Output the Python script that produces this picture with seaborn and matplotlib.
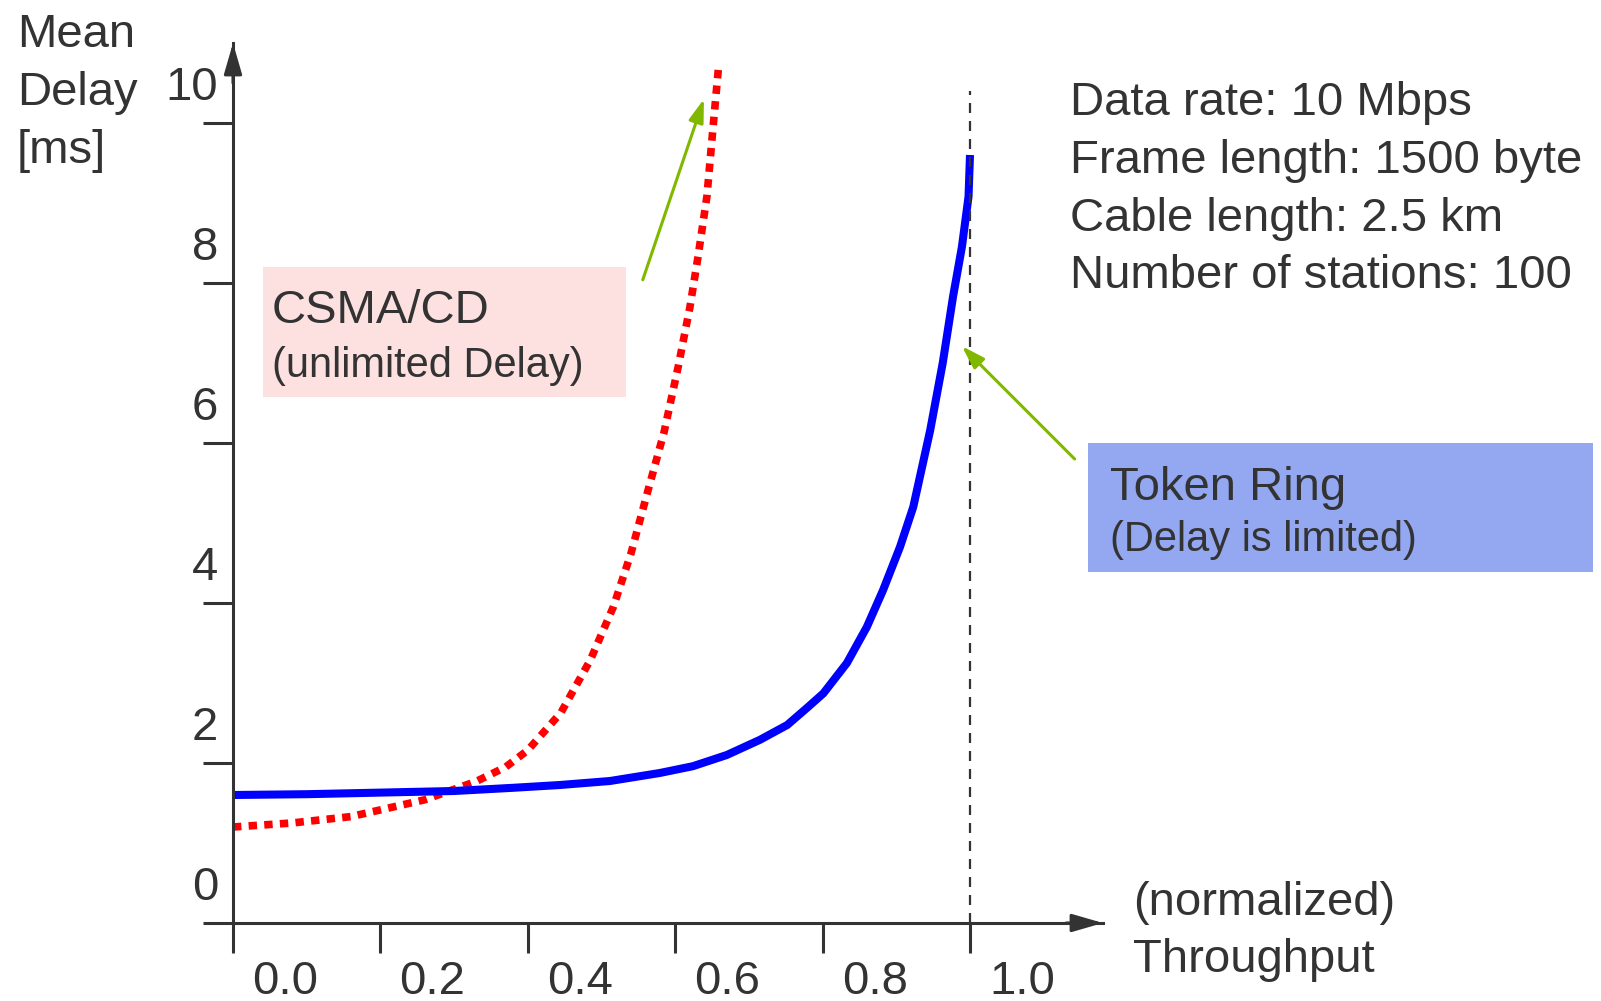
import matplotlib
matplotlib.use('Agg')
import matplotlib.pyplot as plt
from matplotlib.patches import Rectangle
from matplotlib.transforms import ScaledTranslation
import seaborn as sns

# Werte
token_x = [0.0, 0.1, 0.2, 0.3, 0.38, 0.4437, 0.5115, 0.579, 0.624, 0.670,
           0.715, 0.752, 0.779, 0.801, 0.833, 0.860, 0.882, 0.905, 0.923,
           0.946, 0.963, 0.977, 0.989, 0.998, 1.0]
token_y = [1.6, 1.61, 1.63, 1.65, 1.69, 1.725, 1.775, 1.875, 1.96, 2.1,
           2.29, 2.475, 2.69, 2.87, 3.25, 3.7, 4.16, 4.7, 5.2,
           6.16, 7.0, 7.83, 8.45, 9.08, 9.6]

csma_x = [0.0, 0.08, 0.16, 0.26, 0.33, 0.37, 0.40, 0.445, 0.485, 0.516,
          0.54, 0.562, 0.585, 0.604, 0.62, 0.631, 0.643, 0.651, 0.659]
csma_y = [1.2, 1.25, 1.33, 1.54, 1.77, 1.95, 2.16, 2.63, 3.29, 3.95,
          4.62, 5.37, 6.14, 6.95, 7.7, 8.33, 9.08, 9.91, 10.72]

x_ticks = [0.0, 0.2, 0.4, 0.6, 0.8, 1.0]
y_ticks = [0, 2, 4, 6, 8, 10]
capacity = 1.0
info_lines = ['Data rate: 10 Mbps', 'Frame length: 1500 byte',
              'Cable length: 2.5 km', 'Number of stations: 100']

sns.set_theme(style='ticks')
plt.rcParams['font.family'] = ['Liberation Sans', 'DejaVu Sans']
GREY = '#333333'
GREEN = '#80b800'

W, H = 1601, 1001
fig = plt.figure(figsize=(W / 100, H / 100), dpi=100)
# x=0 bei px 233, y=0 bei px 923; 737 px je x-Einheit, 80 px je y-Einheit
ax = fig.add_axes([233 / W, (H - 923) / H, 870 / W, 880 / H])
xmax, ymax = 870 / 737, 11.0
ax.set_xlim(0, xmax)
ax.set_ylim(0, ymax)

# Kurven
sns.lineplot(x=csma_x, y=csma_y, ax=ax, color='#ff0000', lw=5.5,
             linestyle=(0, (1.1, 0.95)), clip_on=False)
sns.lineplot(x=token_x, y=token_y, ax=ax, color='#0000ff', lw=5.8,
             solid_capstyle='butt', clip_on=False)
ax.vlines(capacity, 0, 10.4, color=GREY, lw=1.6,
          linestyles=[(0, (4.5, 3.6))], clip_on=False)

# Achsen mit Pfeilen
for s in ['top', 'right']:
    ax.spines[s].set_visible(False)
for s in ['left', 'bottom']:
    ax.spines[s].set_color(GREY)
    ax.spines[s].set_linewidth(2.2)
arrow = dict(arrowstyle='-|>,head_length=1.9,head_width=0.55', color=GREY,
             lw=2.2, shrinkA=0, shrinkB=0, mutation_scale=10)
ax.annotate('', xy=(xmax, 0), xytext=(xmax - 0.05, 0), arrowprops=arrow,
            annotation_clip=False)
ax.annotate('', xy=(0, ymax), xytext=(0, ymax - 0.5), arrowprops=arrow,
            annotation_clip=False)

ax.set_xticks(x_ticks, labels=[f'{v:.1f}' for v in x_ticks])
ax.set_yticks(y_ticks, labels=[str(v) for v in y_ticks])
ax.tick_params(direction='out', length=21.6, width=2.2, color=GREY,
               labelcolor=GREY, labelsize=34)
ax.tick_params(axis='y', pad=0)
ax.tick_params(axis='x', pad=5)
for lab in ax.get_xticklabels():
    lab.set_transform(lab.get_transform() + ScaledTranslation(0.52, 0, fig.dpi_scale_trans))
for lab in ax.get_yticklabels():
    lab.set_transform(lab.get_transform() + ScaledTranslation(0.15, 0.40, fig.dpi_scale_trans))
ax.set_xlabel('')
ax.set_ylabel('')


def px(x, y):
    return x / W, 1 - y / H


# Achsentitel
for txt, yb in zip(['Mean', 'Delay', '[ms]'], [47, 105, 163]):
    fig.text(*px(17, yb), txt, fontsize=34, color=GREY, va='baseline')
for txt, yb in zip(['(normalized)', 'Throughput'], [915, 972]):
    fig.text(*px(1133, yb), txt, fontsize=34, color=GREY, va='baseline')

# Parameter
for i, txt in enumerate(info_lines):
    fig.text(*px(1070, 115 + 57.8 * i), txt, fontsize=34, color=GREY,
             va='baseline')

# Beschriftungskästen
ax.add_patch(Rectangle((0.0407, 6.575), 0.492, 1.625, color='#fde0e0',
                       lw=0, clip_on=False, zorder=0.5))
ax.text(0.053, 7.5, 'CSMA/CD', fontsize=34, color=GREY)
ax.text(0.053, 6.825, '(unlimited Delay)', fontsize=30, color=GREY)

ax.add_patch(Rectangle((1.160, 4.39), 0.685, 1.61, color='#93a8f0',
                       lw=0, clip_on=False, zorder=0.5))
ax.text(1.19, 5.29, 'Token Ring', fontsize=34, color=GREY, clip_on=False)
ax.text(1.19, 4.65, '(Delay is limited)', fontsize=30, color=GREY,
        clip_on=False)

green = dict(arrowstyle='-|>,head_length=1.4,head_width=0.45', color=GREEN,
             lw=2.2, shrinkA=0, shrinkB=0, mutation_scale=10)
ax.annotate('', xy=(0.639, 10.3), xytext=(0.556, 8.04), arrowprops=green,
            annotation_clip=False)
ax.annotate('', xy=(0.989, 7.21), xytext=(1.142, 5.8), arrowprops=green,
            annotation_clip=False)

fig.savefig('out.png', dpi=100)
